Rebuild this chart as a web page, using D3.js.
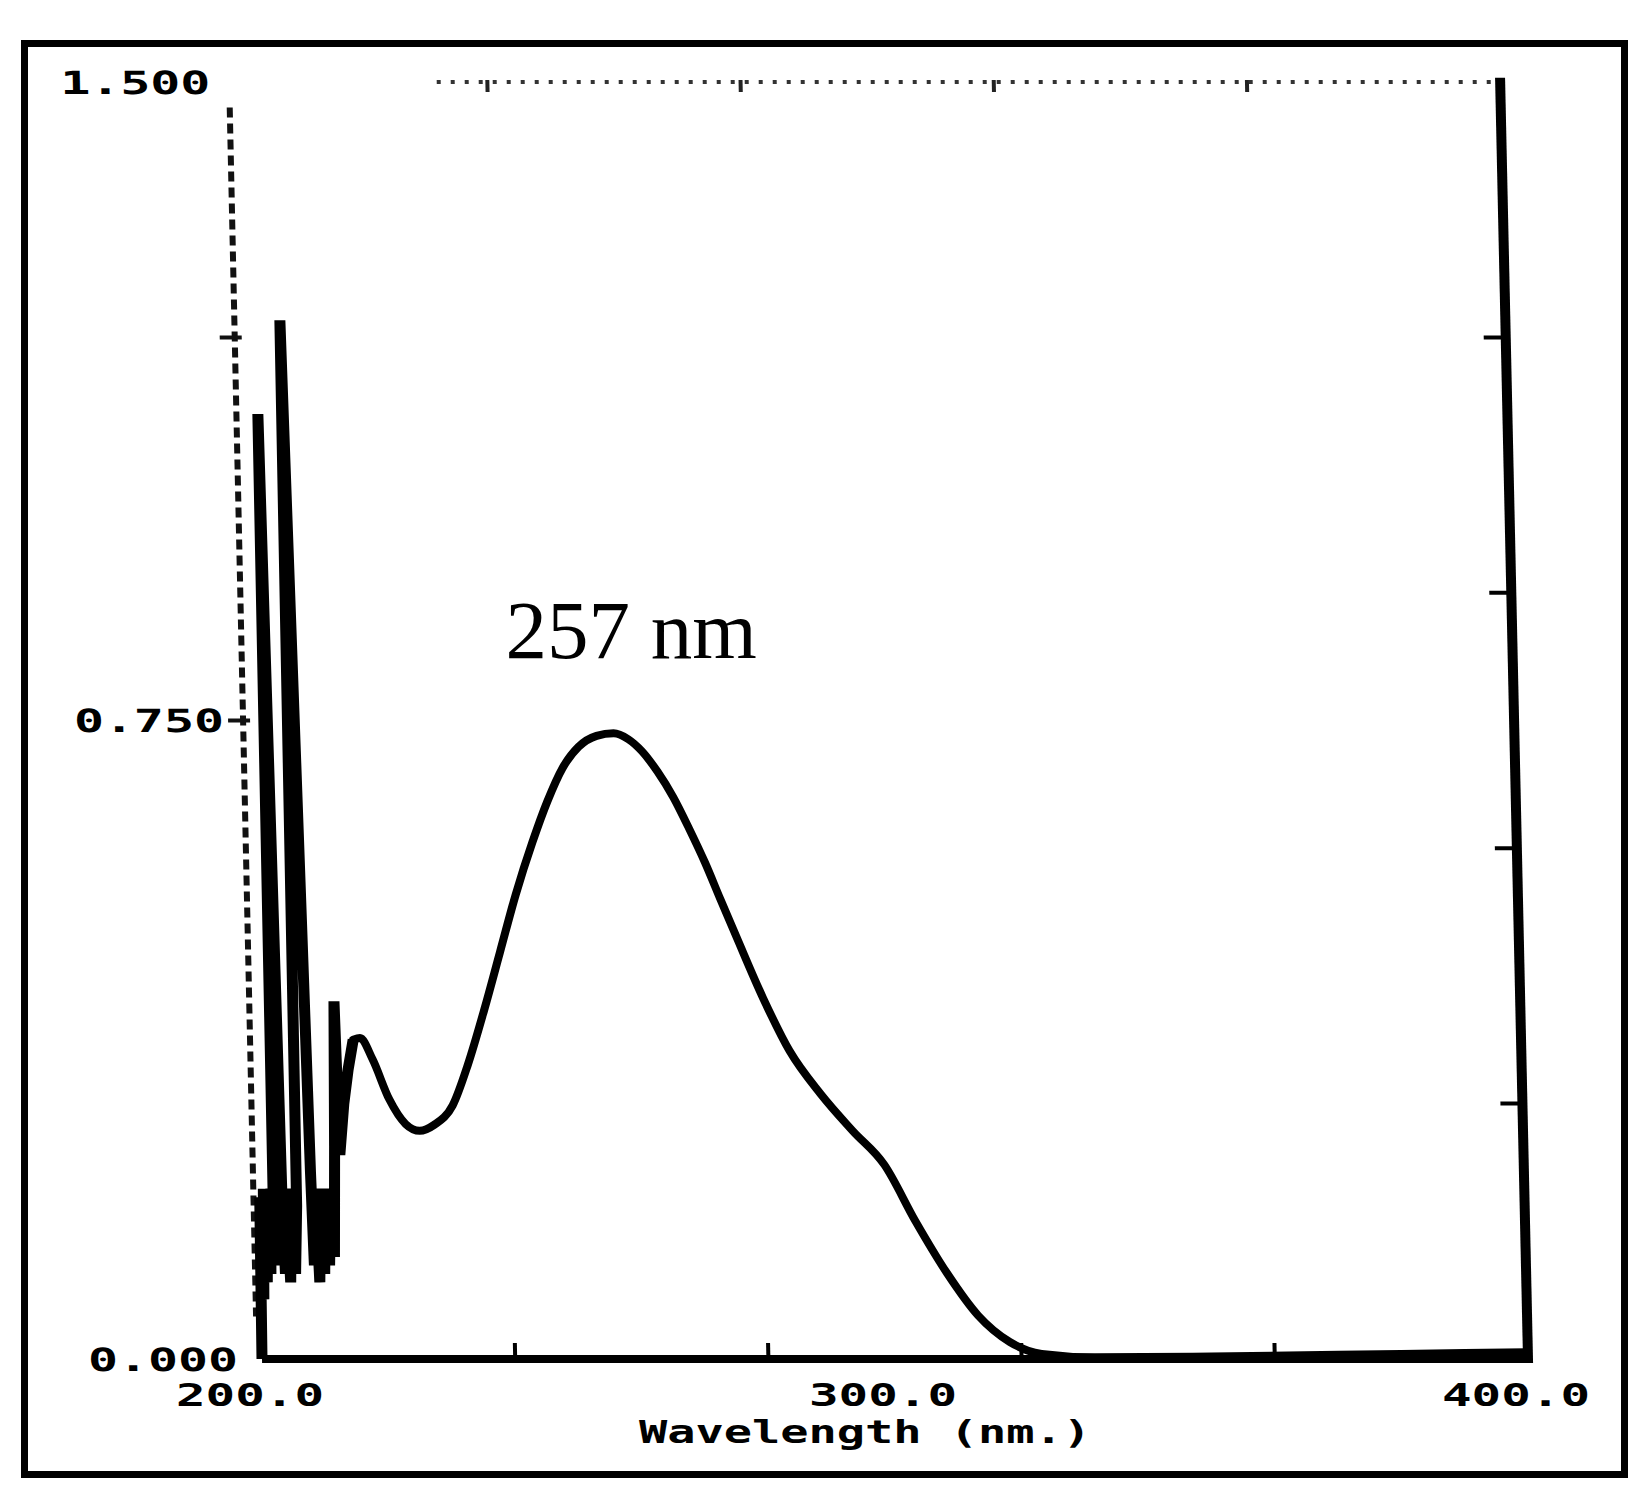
<!DOCTYPE html>
<html>
<head>
<meta charset="utf-8">
<script src="https://cdn.jsdelivr.net/npm/d3@7/dist/d3.min.js"></script>
<style>
  html, body { margin: 0; padding: 0; background: #fff; }
  svg { display: block; }
</style>
</head>
<body>
<script>
// ---- data ----
const wavelengths = [200.0, 200.2, 200.5, 200.8, 201.1, 201.4, 201.7, 202.0, 202.3, 202.6, 203.7, 204.0, 204.4, 204.8, 205.2, 205.6, 206.0, 206.4, 208.3, 208.6, 209.0, 209.4, 209.8, 210.2, 210.6, 211.0, 211.4, 211.8, 212.2, 212.6, 213.0, 213.8, 214.6, 215.5,
  216.6, 218.5, 221.0, 223.5, 225.7, 228.0, 231.0, 233.5, 236.3, 239.0, 241.7, 244.5, 247.0, 249.5, 252.1, 255.0, 257.7, 260.0, 262.1, 264.5, 266.9, 269.3, 271.7, 274.0, 276.4, 280.4, 284.4, 289.2, 294.1, 299.0, 303.7, 308.5, 313.3, 318.2, 323.2, 331.5, 350.0, 380.0, 400.0];
const absorbance = [0.0, 0.19, 0.07, 0.20, 0.09, 0.19, 0.10, 0.20, 0.11, 1.11, 0.20, 0.10, 0.19, 0.09, 0.20, 0.10, 0.18, 1.22, 0.22, 0.11, 0.20, 0.09, 0.19, 0.10, 0.20, 0.11, 0.19, 0.12, 0.25, 0.42, 0.24, 0.30, 0.34, 0.375,
  0.377, 0.352, 0.305, 0.276, 0.268, 0.275, 0.298, 0.345, 0.410, 0.478, 0.546, 0.607, 0.655, 0.694, 0.719, 0.732, 0.735, 0.728, 0.714, 0.690, 0.660, 0.623, 0.583, 0.540, 0.496, 0.424, 0.362, 0.311, 0.268, 0.228, 0.162, 0.101, 0.051, 0.020, 0.006, 0.002, 0.003, 0.006, 0.008];

const xDomain = [200, 400];
const yDomain = [0, 1.5];
const xTickValues = [240, 280, 320, 360];
const xLabelValues = [200, 300, 400];
const xLabels = ["200.0", "300.0", "400.0"];
const yLabelValues = [1.5, 0.75, 0.0];
const yLabels = ["1.500", "0.750", "0.000"];
const leftTickValues = [1.2, 0.75];
const rightTickValues = [0.3, 0.6, 0.9, 1.2];
const xTitle = "Wavelength (nm.)";
const peakLabel = "257 nm";
const peakNm = 257.7;

// ---- layout ----
const W = 1650, H = 1508;
const x = d3.scaleLinear().domain(xDomain).range([262, 1528]);
const y = d3.scaleLinear().domain(yDomain).range([1359, 82]);
const skew = Math.atan(0.0218) * 180 / Math.PI;

const svg = d3.select("body").append("svg").attr("width", W).attr("height", H);
svg.append("rect").attr("width", W).attr("height", H).attr("fill", "#fff");

// outer frame
svg.append("rect").attr("x", 24.5).attr("y", 43.5).attr("width", 1600).attr("height", 1431)
  .attr("fill", "none").attr("stroke", "#000").attr("stroke-width", 7);

const g = svg.append("g")
  .attr("transform", `translate(0,${y(0)}) skewX(${skew}) translate(0,${-y(0)})`);

const mono = "'DejaVu Sans Mono', 'Liberation Mono', monospace";

// top dotted border
g.append("line").attr("x1", x(232)).attr("x2", x(399)).attr("y1", y(1.5)).attr("y2", y(1.5))
  .attr("stroke", "#333").attr("stroke-width", 4).attr("stroke-dasharray", "4,10");
g.selectAll(".ttick").data(xTickValues).join("line")
  .attr("x1", d => x(d)).attr("x2", d => x(d)).attr("y1", y(1.5) - 2).attr("y2", y(1.5) + 10)
  .attr("stroke", "#222").attr("stroke-width", 4);

// left dashed axis
g.append("line").attr("x1", x(200) - 5).attr("x2", x(200) - 5).attr("y1", y(1.47)).attr("y2", y(0.05))
  .attr("stroke", "#111").attr("stroke-width", 6).attr("stroke-dasharray", "10,6");
g.selectAll(".ltick").data(leftTickValues).join("line")
  .attr("x1", d => x(200) - 20).attr("x2", d => x(200) + 2).attr("y1", d => y(d)).attr("y2", d => y(d))
  .attr("stroke", "#111").attr("stroke-width", 4);

// bottom axis
g.append("line").attr("x1", x(200)).attr("x2", x(400)).attr("y1", y(0)).attr("y2", y(0))
  .attr("stroke", "#000").attr("stroke-width", 8);
g.selectAll(".btick").data(xTickValues).join("line")
  .attr("x1", d => x(d)).attr("x2", d => x(d)).attr("y1", y(0)).attr("y2", y(0) - 16)
  .attr("stroke", "#000").attr("stroke-width", 4);

// right axis
g.append("line").attr("x1", x(400)).attr("x2", x(400)).attr("y1", y(0) + 4).attr("y2", y(1.505))
  .attr("stroke", "#000").attr("stroke-width", 10);
g.selectAll(".rtick").data(rightTickValues).join("line")
  .attr("x1", d => x(400)).attr("x2", d => x(400) - 22).attr("y1", d => y(d)).attr("y2", d => y(d))
  .attr("stroke", "#000").attr("stroke-width", 4);

// y labels
g.selectAll(".ylab").data(yLabelValues).join("text")
  .attr("x", x(200) - 24).attr("y", d => y(d) + 12)
  .attr("text-anchor", "end")
  .attr("font-family", mono).attr("font-weight", "bold").attr("font-size", 32)
  .attr("textLength", 150).attr("lengthAdjust", "spacingAndGlyphs")
  .attr("fill", "#000")
  .text((d, i) => yLabels[i]);

// spectrum
const pts = wavelengths.map((w, i) => [w, absorbance[i]]);
const spikePts = pts.filter(p => p[0] <= 215.5);
const smoothPts = pts.filter(p => p[0] >= 215.5);
const lineLin = d3.line().x(d => x(d[0])).y(d => y(d[1]));
const lineSmooth = d3.line().x(d => x(d[0])).y(d => y(d[1])).curve(d3.curveMonotoneX);

g.append("path").attr("d", lineLin(spikePts)).attr("fill", "none")
  .attr("stroke", "#000").attr("stroke-width", 11).attr("stroke-linejoin", "miter").attr("stroke-miterlimit", 2);
g.append("path").attr("d", lineSmooth(smoothPts)).attr("fill", "none")
  .attr("stroke", "#000").attr("stroke-width", 8).attr("stroke-linejoin", "round").attr("stroke-linecap", "round");

// x labels (not skewed)
svg.selectAll(".xlab").data(xLabelValues).join("text")
  .attr("x", d => x(d) - 12).attr("y", 1406)
  .attr("text-anchor", "middle")
  .attr("font-family", mono).attr("font-weight", "bold").attr("font-size", 32)
  .attr("textLength", 148).attr("lengthAdjust", "spacingAndGlyphs")
  .attr("fill", "#000")
  .text((d, i) => xLabels[i]);

svg.append("text")
  .attr("x", (x(200) + x(400)) / 2 - 30).attr("y", 1443)
  .attr("text-anchor", "middle")
  .attr("font-family", mono).attr("font-weight", "bold").attr("font-size", 32)
  .attr("textLength", 452).attr("lengthAdjust", "spacingAndGlyphs")
  .attr("fill", "#000")
  .text(xTitle);

// annotation
svg.append("text")
  .attr("x", x(peakNm) + 4).attr("y", 658)
  .attr("text-anchor", "middle")
  .attr("font-family", "'Liberation Serif', 'Times New Roman', serif")
  .attr("font-size", 83).attr("fill", "#000")
  .text(peakLabel);
</script>
</body>
</html>
